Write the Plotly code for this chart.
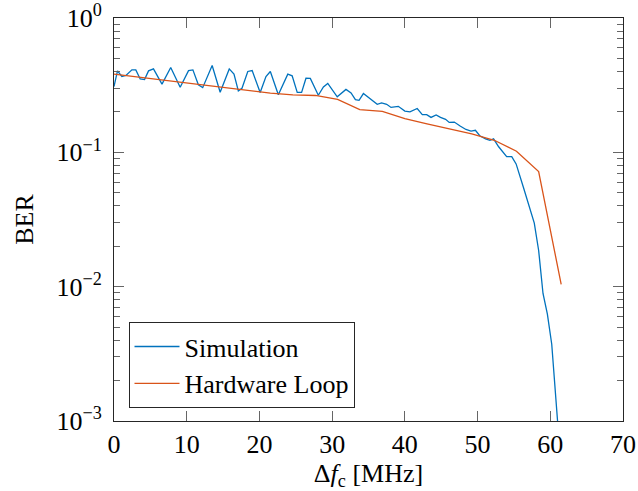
import plotly.graph_objects as go

# Simulation (blue)
sim_x = [0.0, 0.48, 1.08, 1.64, 2.46, 3.0, 3.6, 4.2, 4.75, 5.43, 6.6, 7.8, 9.1, 10.25, 10.85,
         11.6, 12.2, 13.5, 14.6, 15.85, 16.5, 17.1, 17.6, 18.4, 19.0, 20.1, 20.9, 21.5, 22.6,
         23.9, 24.5, 25.2, 25.8, 26.4, 27.0, 28.1, 28.8, 29.4, 30.7, 31.9, 32.6, 33.2, 33.7,
         34.3, 36.2, 36.8, 37.5, 38.1, 39.1, 40.0, 40.7, 41.7, 42.4, 43.0, 43.6, 44.3, 44.9,
         45.6, 46.1, 46.8, 47.6, 48.4, 49.1, 49.7, 50.3, 51.1, 51.7, 52.2, 52.9, 54.0, 54.7,
         55.3, 56.3, 57.0, 57.8, 58.4, 59.0, 59.6, 60.2, 61.0, 61.3]
sim_y = [0.309, 0.404, 0.367, 0.373, 0.411, 0.411, 0.352, 0.348, 0.404, 0.418, 0.322, 0.428,
         0.305, 0.406, 0.411, 0.318, 0.303, 0.443, 0.280, 0.418, 0.382, 0.287, 0.300, 0.400,
         0.406, 0.279, 0.367, 0.400, 0.268, 0.382, 0.371, 0.279, 0.279, 0.356, 0.355, 0.266,
         0.307, 0.326, 0.259, 0.294, 0.277, 0.247, 0.244, 0.274, 0.228, 0.233, 0.228, 0.216,
         0.220, 0.203, 0.200, 0.212, 0.191, 0.191, 0.182, 0.190, 0.182, 0.176, 0.167, 0.168,
         0.157, 0.148, 0.144, 0.146, 0.133, 0.126, 0.123, 0.126, 0.110, 0.093, 0.093, 0.082,
         0.055, 0.041, 0.0297, 0.0186, 0.0089, 0.00625, 0.00373, 0.0010, 0.0006]

# Hardware loop (orange)
hw_x = [0.0, 3.07, 6.15, 9.2, 12.3, 15.4, 18.4, 21.5, 24.6, 27.7, 30.75, 33.8, 36.9, 40.0,
        43.05, 46.1, 49.2, 52.3, 55.35, 58.4, 61.5]
hw_y = [0.382, 0.365, 0.350, 0.335, 0.318, 0.305, 0.290, 0.276, 0.268, 0.265, 0.248, 0.208,
        0.202, 0.178, 0.163, 0.150, 0.137, 0.123, 0.102, 0.072, 0.0104]

x_ticks = [0, 10, 20, 30, 40, 50, 60, 70]
y_ticks = [1e-3, 1e-2, 1e-1, 1]
y_ticktext = ["10<sup>−3</sup>", "10<sup>−2</sup>", "10<sup>−1</sup>", "10<sup>0</sup>"]

minor_vals = [m * 10.0 ** e for e in (-3, -2, -1) for m in range(2, 10)]

FONT = "Liberation Serif, Times New Roman, DejaVu Serif, serif"
fig = go.Figure()
fig.add_trace(go.Scatter(x=sim_x, y=sim_y, mode="lines", name="Simulation",
                         line=dict(color="#0072BD", width=1.3)))
fig.add_trace(go.Scatter(x=hw_x, y=hw_y, mode="lines", name="Hardware Loop",
                         line=dict(color="#D95319", width=1.3)))

fig.update_layout(
    width=638, height=491,
    margin=dict(l=114, r=15, t=18, b=70, autoexpand=False),
    paper_bgcolor="white", plot_bgcolor="white",
    font=dict(family=FONT, size=26, color="black"),
    showlegend=True,
    legend=dict(x=0.0285, y=0.032, xanchor="left", yanchor="bottom",
                bordercolor="#262626", borderwidth=1, bgcolor="white",
                font=dict(family=FONT, size=26), itemwidth=45,
                tracegroupgap=0),
    xaxis=dict(range=[0, 70], tickvals=x_ticks, ticks="inside", ticklen=10,
               tickcolor="#666666", showline=True, linecolor="#262626", linewidth=1,
               mirror="allticks", showgrid=False, zeroline=False, automargin=False,
               title=dict(text="Δ<i>f</i><sub>c</sub> [MHz]", font=dict(family=FONT, size=26)),
               tickfont=dict(family=FONT, size=26)),
    yaxis=dict(type="log", range=[-3, 0], tickvals=y_ticks, ticktext=y_ticktext,
               ticks="inside", ticklen=10, tickcolor="#666666", showline=True,
               linecolor="#262626", linewidth=1, mirror="allticks", showgrid=False,
               zeroline=False, automargin=False, ticklabelstandoff=6,
               minor=dict(tickvals=minor_vals, ticks="inside", ticklen=6,
                          tickcolor="#666666", showgrid=False),
               title=dict(text="BER", font=dict(family=FONT, size=26)),
               tickfont=dict(family=FONT, size=26)),
)

fig.write_html("out.html")
